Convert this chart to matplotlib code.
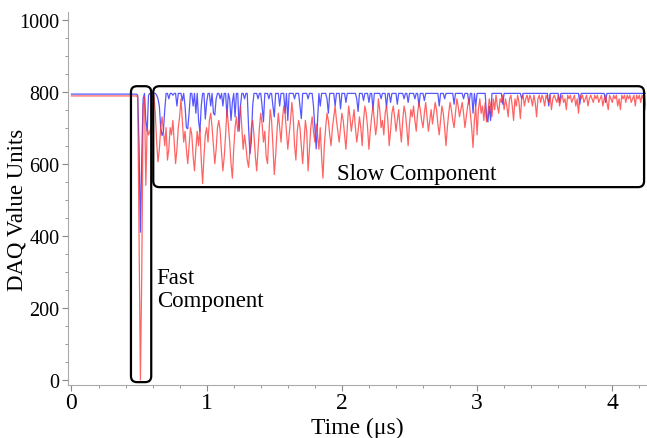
import numpy as np
import matplotlib
matplotlib.use("Agg")
import matplotlib.pyplot as plt
from matplotlib.patches import FancyBboxPatch
from matplotlib.ticker import MultipleLocator

# сигналы DAQ, шаг 0.01 мкс начиная с 0.48 мкс (до этого ровная базовая линия)
t_start = 0.48
dt = 0.01
base_red = 788
base_blue = 793

red = [
    788, 785, 400, 0, 300, 760, 785, 540, 700, 680,
    690, 700, 720, 790, 740, 660, 605, 640, 700, 730,
    690, 650, 700, 610, 640, 700, 680, 720, 660, 600,
    640, 700, 730, 780, 720, 660, 690, 640, 600, 650,
    700, 680, 620, 580, 640, 690, 650, 700, 610, 545,
    620, 680, 700, 660, 720, 740, 700, 650, 600, 640,
    700, 720, 690, 630, 580, 620, 680, 750, 710, 660,
    600, 560, 640, 700, 730, 690, 720, 760, 700, 640,
    680, 650, 610, 590, 640, 700, 720, 680, 620, 580,
    640, 700, 740, 710, 660, 690, 620, 600, 680, 750,
    720, 650, 570, 620, 690, 740, 700, 660, 720, 760,
    740, 690, 640, 680, 720, 770, 730, 650, 610, 690,
    720, 700, 650, 600, 660, 720, 690, 580, 640, 700,
    730, 690, 660, 710, 680, 640, 700, 620, 560, 650,
    700, 740, 720, 680, 650, 700, 730, 760, 720, 690,
    660, 700, 740, 720, 680, 640, 700, 760, 730, 690,
    720, 750, 700, 660, 690, 730, 700, 650, 720, 760,
    740, 700, 640, 690, 730, 760, 720, 680, 710, 780,
    750, 700, 720, 680, 740, 760, 720, 650, 690, 740,
    760, 730, 690, 720, 750, 700, 660, 720, 760, 740,
    700, 650, 710, 750, 730, 760, 720, 690, 740, 770,
    750, 720, 700, 740, 770, 730, 690, 720, 750, 710,
    740, 770, 750, 710, 680, 720, 760, 740, 700, 650,
    700, 740, 770, 750, 720, 700, 740, 780, 760, 730,
    750, 770, 740, 700, 730, 760, 780, 740, 700, 645,
    720, 760, 680, 750, 780, 740, 760, 720, 770, 716,
    740, 780, 760, 730, 780, 750, 790, 760, 740, 780,
    770, 790, 750, 780, 760, 730, 780, 790, 760, 720,
    780, 760, 790, 770, 725, 780, 790, 760, 780, 790,
    770, 790, 780, 760, 790, 770, 730, 780, 790, 770,
    790, 780, 760, 790, 780, 770, 790, 750, 780, 790,
    780, 770, 790, 760, 780, 790, 770, 780, 750, 790,
    780, 790, 770, 780, 790, 760, 780, 740, 790, 780,
    790, 770, 780, 790, 760, 780, 790, 780, 770, 790,
    780, 790, 770, 780, 790, 760, 780, 790, 770, 750,
    790, 780, 770, 790, 780, 790, 760, 780, 750, 790,
    780, 790, 770, 790, 780, 790, 770, 780, 790, 760,
    790, 780, 790, 770, 790, 780, 790, 750,
]

blue = [
    793, 790, 650, 410, 620, 780, 795, 720, 690, 790,
    795, 795, 795, 795, 795, 790, 780, 760, 700, 678,
    690, 750, 795, 795, 780, 795, 795, 790, 795, 795,
    760, 795, 795, 795, 775, 795, 760, 700, 697, 740,
    795, 795, 760, 795, 740, 795, 720, 688, 760, 795,
    795, 724, 770, 795, 795, 760, 795, 740, 735, 780,
    795, 795, 780, 795, 760, 795, 795, 730, 795, 780,
    720, 770, 795, 730, 795, 795, 690, 760, 795, 795,
    780, 795, 795, 700, 627, 660, 760, 795, 795, 795,
    780, 795, 795, 760, 716, 795, 795, 795, 780, 795,
    795, 760, 730, 795, 795, 795, 760, 795, 795, 795,
    740, 795, 720, 795, 795, 795, 795, 780, 795, 795,
    795, 760, 725, 795, 795, 795, 795, 780, 795, 795,
    795, 760, 700, 641, 720, 795, 760, 795, 795, 795,
    795, 780, 740, 795, 795, 795, 795, 760, 795, 795,
    795, 752, 795, 795, 795, 770, 795, 795, 795, 795,
    795, 795, 795, 780, 745, 795, 795, 795, 775, 795,
    795, 795, 770, 795, 795, 750, 795, 795, 795, 795,
    795, 780, 795, 795, 795, 755, 795, 795, 770, 795,
    795, 795, 795, 765, 795, 795, 795, 795, 780, 795,
    795, 770, 795, 795, 795, 795, 780, 795, 795, 760,
    795, 795, 795, 775, 795, 795, 795, 795, 795, 795,
    795, 795, 795, 795, 760, 795, 795, 795, 780, 795,
    795, 795, 795, 795, 795, 765, 795, 795, 795, 795,
    795, 795, 780, 795, 795, 795, 765, 795, 795, 740,
    795, 760, 795, 795, 795, 795, 795, 795, 795, 730,
    716, 760, 720, 795, 795, 795, 795, 795, 795, 795,
    795, 765, 795, 795, 795, 795, 795, 795, 795, 795,
    795, 795, 795, 795, 795, 780, 795, 795, 795, 795,
    795, 795, 795, 795, 795, 795, 795, 795, 795, 795,
    795, 795, 795, 795, 795, 760, 795, 795, 795, 795,
    795, 795, 795, 770, 795, 795, 795, 795, 795, 795,
    795, 795, 795, 795, 795, 795, 795, 795, 765, 795,
    795, 795, 795, 795, 795, 795, 795, 795, 795, 795,
    795, 795, 795, 795, 795, 795, 795, 770, 795, 795,
    795, 795, 795, 795, 795, 795, 795, 795, 795, 795,
    795, 795, 795, 795, 795, 795, 795, 795, 795, 795,
    795, 795, 795, 795, 795, 795, 795, 795,
]

t = np.concatenate([[0.0], t_start + dt * np.arange(len(red))])
y_red = np.concatenate([[base_red], red])
y_blue = np.concatenate([[base_blue], blue])

plt.rcParams['font.family'] = ['Liberation Serif', 'DejaVu Serif']

fig = plt.figure(figsize=(6.47, 4.39), dpi=100)
ax = fig.add_axes([0.1046, 0.1207, 0.894, 0.849])

ax.plot(t, y_blue, color='#3a3aff', lw=0.9, alpha=0.85)
ax.plot(t, y_red, color='#ff3030', lw=0.9, alpha=0.75)

ax.set_xlim(-0.028, 4.25)
ax.set_ylim(-14, 1020)

# рамки "Fast" и "Slow"
def rbox(x0, x1, y0, y1):
    px_x = 135.25
    px_y = 0.3603
    r = 6 / px_x
    p = FancyBboxPatch((x0, y0), x1 - x0, y1 - y0,
                       boxstyle=f"round,pad=0,rounding_size={r}",
                       mutation_aspect=px_x / px_y,
                       fc='none', ec='black', lw=1.6, clip_on=False, zorder=5)
    ax.add_patch(p)

rbox(0.440, 0.590, -6, 815)
rbox(0.605, 4.235, 535, 815)

ax.text(0.63, 253, 'Fast\nComponent', fontsize=16.5, ha='left', va='center',
        linespacing=1.1)
ax.text(2.555, 572, 'Slow Component', fontsize=16.5, ha='center', va='center')

for s in ['top', 'right']:
    ax.spines[s].set_visible(False)
for s in ['left', 'bottom']:
    ax.spines[s].set_color('#aaaaaa')
    ax.spines[s].set_linewidth(0.8)

ax.xaxis.set_major_locator(MultipleLocator(1))
ax.xaxis.set_minor_locator(MultipleLocator(0.2))
ax.yaxis.set_major_locator(MultipleLocator(200))
ax.yaxis.set_minor_locator(MultipleLocator(50))
ax.tick_params(which='major', length=4, color='#888888', width=0.8)
ax.tick_params(which='minor', length=2, color='#888888', width=0.6)
ax.tick_params(axis='x', labelsize=17, pad=1)
ax.tick_params(axis='y', labelsize=14.5, pad=2)

ax.set_xlabel('Time (\u03bcs)', fontsize=17, labelpad=3)
ax.set_ylabel('DAQ Value Units', fontsize=16.5)
ax.yaxis.set_label_coords(-0.07, 0.472)

fig.savefig('out.png', dpi=100)
